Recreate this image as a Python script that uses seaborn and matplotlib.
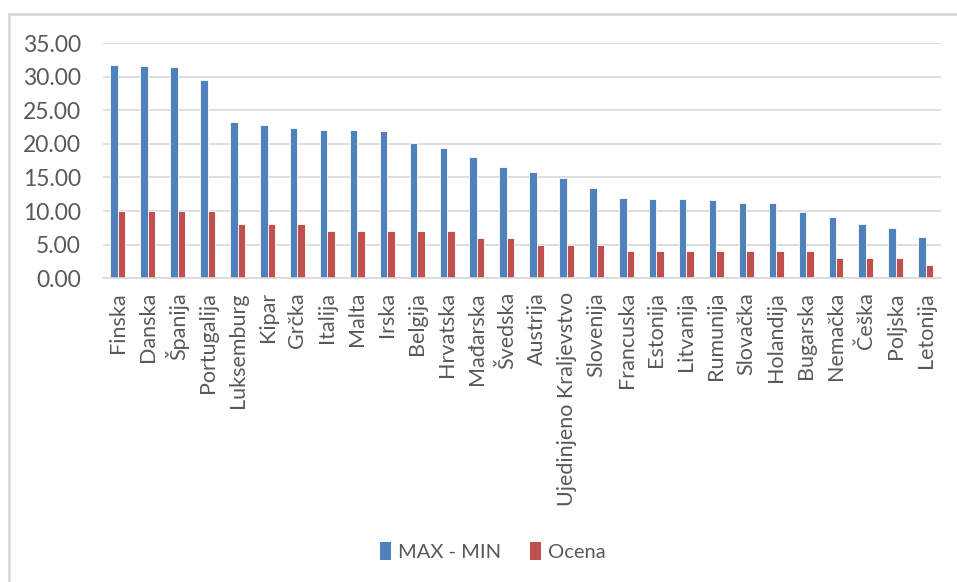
import matplotlib
matplotlib.use("Agg")
import matplotlib.pyplot as plt
from matplotlib.lines import Line2D
import seaborn as sns
import pandas as pd

countries = ["Finska", "Danska", "Španija", "Portugalija", "Luksemburg", "Kipar",
             "Grčka", "Italija", "Malta", "Irska", "Belgija", "Hrvatska",
             "Mađarska", "Švedska", "Austrija", "Ujedinjeno Kraljevstvo",
             "Slovenija", "Francuska", "Estonija", "Litvanija", "Rumunija",
             "Slovačka", "Holandija", "Bugarska", "Nemačka", "Češka",
             "Poljska", "Letonija"]
max_min = [31.8, 31.6, 31.4, 29.5, 23.2, 22.8, 22.4, 22.1, 22.1, 21.9, 20.1, 19.4,
           18.1, 16.6, 15.8, 14.9, 13.5, 12.0, 11.8, 11.8, 11.6, 11.2, 11.2, 9.9,
           9.1, 8.1, 7.5, 6.2]
ocena = [10, 10, 10, 10, 8, 8, 8, 7, 7, 7, 7, 7,
         6, 6, 5, 5, 5, 4, 4, 4, 4, 4, 4, 4,
         3, 3, 3, 2]
series_names = ["MAX - MIN", "Ocena"]
yticks = [0, 5, 10, 15, 20, 25, 30, 35]

df = pd.DataFrame({
    "Država": countries * 2,
    "Vrednost": max_min + ocena,
    "Serija": [series_names[0]] * len(countries) + [series_names[1]] * len(countries),
})

sns.set_theme(style="white")
plt.rcParams["font.family"] = ["Lato", "DejaVu Sans"]

palette = {"MAX - MIN": "#4F81BD", "Ocena": "#C0504D"}
text_color = "#595959"

fig = plt.figure(figsize=(9.57, 5.82), dpi=100)
ax = fig.add_axes([0.1076, 0.522, 0.8754, 0.404])

sns.barplot(data=df, x="Država", y="Vrednost", hue="Serija", palette=palette,
            width=0.5, edgecolor="white", linewidth=0.6, saturation=1,
            legend=False, ax=ax)

ax.set_ylim(0, 35)
ax.set_xlim(-0.5, len(countries) - 0.5)
ax.set_yticks(yticks)
ax.set_yticklabels([f"{v:.2f}" for v in yticks], fontsize=16.5, color=text_color)
ax.tick_params(axis="y", length=0, pad=16)
ax.tick_params(axis="x", length=0, pad=10)
ax.set_xticks(range(len(countries)))
ax.set_xticklabels(countries, rotation=90, fontsize=15.5, color=text_color,
                   ha="center", va="top")
ax.set_xlabel("")
ax.set_ylabel("")
ax.yaxis.grid(True, color="#d9d9d9", linewidth=1.2)
ax.set_axisbelow(True)
for side in ["left", "right", "top"]:
    ax.spines[side].set_visible(False)
ax.spines["bottom"].set_color("#d9d9d9")
ax.spines["bottom"].set_linewidth(1.2)

handles = [plt.Rectangle((0, 0), 1, 1, facecolor=palette[s], edgecolor="none")
           for s in series_names]
fig.legend(handles, series_names, loc="center", bbox_to_anchor=(0.515, 0.053),
           ncol=2, frameon=False, fontsize=14.5, handlelength=0.55, handleheight=1.0,
           handletextpad=0.35, columnspacing=1.4, labelcolor=text_color)

# chart frame
fig.add_artist(Line2D([9 / 957, 9 / 957], [0, 1 - 14 / 582], transform=fig.transFigure,
                      color="#d9d9d9", linewidth=2))
fig.add_artist(Line2D([9 / 957, 1], [1 - 14 / 582, 1 - 14 / 582], transform=fig.transFigure,
                      color="#d9d9d9", linewidth=2))

fig.savefig("out.png", dpi=100, facecolor="white")
